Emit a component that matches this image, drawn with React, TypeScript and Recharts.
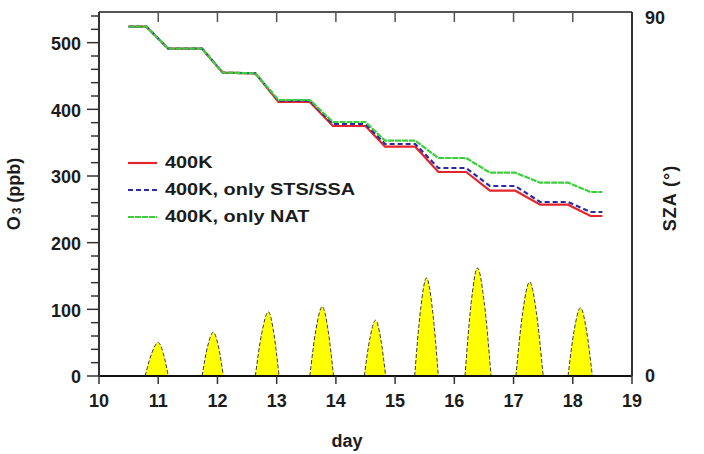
import React from 'react';
import { ComposedChart, Line, Area, XAxis, YAxis } from 'recharts';

const FONT = '"Liberation Sans", Arial, Helvetica, sans-serif';
const TEXT = '#1c1c1c';
const AXIS = '#333333';

// axis ticks
const dayTicks = [10, 11, 12, 13, 14, 15, 16, 17, 18, 19];
const o3Ticks = [0, 20, 40, 60, 80, 100, 120, 140, 160, 180, 200, 220, 240, 260, 280, 300, 320, 340, 360, 380, 400, 420, 440, 460, 480, 500, 520, 540];
const szaTicks = [0, 90];

// O3 series (ppb)
const o3Days = [10.5, 10.8, 11.17, 11.74, 12.09, 12.64, 13.03, 13.56, 13.95, 14.5, 14.83, 15.34, 15.73, 16.2, 16.6, 17.03, 17.45, 17.92, 18.3, 18.5];
const o3Base = [524, 524, 491, 491, 455, 454, 411, 411, 375, 375, 344, 344, 306, 306, 278, 278, 257, 257, 240, 240];
const o3StsSsa = [524, 524, 491, 491, 455, 454, 413, 413, 378, 378, 348, 348, 312, 312, 285, 285, 261, 261, 246, 246];
const o3Nat = [524, 524, 491, 491, 455, 454, 414, 414, 381, 381, 353, 353, 327, 327, 305, 305, 290, 290, 276, 276];

const seriesNames = ['400K', '400K, only STS/SSA', '400K, only NAT'];
const seriesColors = ['#e2262b', '#2b2ba8', '#3ccf3c'];
const seriesDash = ['', '5 3', '6 1'];

// SZA humps (degrees, right axis); null separates the daylight periods
const szaDays = [
  10.78, 10.89, 11.0, 11.085, 11.17, 11.45,
  11.74, 11.835, 11.93, 12.015, 12.1, 12.37,
  12.64, 12.75, 12.86, 12.95, 13.04, 13.3,
  13.56, 13.665, 13.77, 13.865, 13.96, 14.22,
  14.48, 14.575, 14.67, 14.755, 14.84, 15.08,
  15.33, 15.43, 15.53, 15.63, 15.73, 15.95,
  16.18, 16.285, 16.39, 16.505, 16.62, 16.83,
  17.04, 17.155, 17.27, 17.385, 17.5, 17.71,
  17.92, 18.025, 18.13, 18.23, 18.33,
];
const szaValues = [
  0, 5.7, 8.4, 5.7, 0, null,
  0, 7.5, 11.0, 7.5, 0, null,
  0, 10.9, 16.1, 10.9, 0, null,
  0, 11.8, 17.4, 11.8, 0, null,
  0, 9.5, 14.0, 9.5, 0, null,
  0, 16.7, 24.6, 16.7, 0, null,
  0, 18.4, 27.1, 18.4, 0, null,
  0, 16.0, 23.6, 16.0, 0, null,
  0, 11.6, 17.1, 11.6, 0,
];

const o3Data = o3Days.map((day, i) => ({ day, base: o3Base[i], sts: o3StsSsa[i], nat: o3Nat[i] }));
const szaData = szaDays.map((day, i) => ({ day, sza: szaValues[i] }));
const seriesKeys = ['base', 'sts', 'nat'];

const tickText = { fontSize: 18, fontWeight: 700, fill: TEXT, fontFamily: FONT };

const O3Tick = (props: any) => {
  const { x, y, payload } = props;
  const major = payload.value % 100 === 0;
  return (
    <g>
      <line x1={x - (major ? 12 : 8)} x2={x} y1={y} y2={y} stroke={AXIS} strokeWidth={1.5} />
      {major && (
        <text x={x - 18} y={y} dy="0.4em" textAnchor="end" style={tickText as any}>
          {payload.value}
        </text>
      )}
    </g>
  );
};

const O3Label = (props: any) => {
  const vb = props.viewBox || { x: 5, y: 12, width: 94, height: 364 };
  const x = vb.x + 9;
  const y = vb.y + vb.height / 2;
  return (
    <text x={x} y={y} transform={`rotate(-90, ${x}, ${y})`} textAnchor="middle" dominantBaseline="central" style={tickText as any}>
      O<tspan dx="2" dy="3" fontSize="12">3</tspan>
      <tspan dy="-3"> (ppb)</tspan>
    </text>
  );
};

const SzaLabel = (props: any) => {
  const vb = props.viewBox || { x: 632, y: 12, width: 50, height: 364 };
  const x = vb.x + 38;
  const y = vb.y + vb.height / 2 + 4;
  return (
    <text x={x} y={y} transform={`rotate(-90, ${x}, ${y})`} textAnchor="middle" dominantBaseline="central" style={{ ...tickText, letterSpacing: 1 } as any}>
      SZA (°)
    </text>
  );
};

const DayLabel = (props: any) => {
  const vb = props.viewBox || { x: 99, y: 376, width: 533, height: 78 };
  return (
    <text x={vb.x + 248} y={vb.y + 71} textAnchor="middle" style={tickText as any}>
      day
    </text>
  );
};

export default function App() {
  return (
    <div style={{ position: 'absolute', left: 0, top: 0, width: 704, height: 454, background: '#fff', fontFamily: FONT }}>
      <ComposedChart width={704} height={454} data={o3Data} margin={{ top: 12, right: 22, bottom: 0, left: 5 }}>
        <XAxis
          xAxisId="bottom"
          dataKey="day"
          type="number"
          domain={[10, 19]}
          ticks={dayTicks}
          interval={0}
          allowDataOverflow
          height={78}
          tickSize={8}
          tickMargin={10}
          tick={tickText}
          tickLine={{ stroke: AXIS, strokeWidth: 1.5 }}
          axisLine={{ stroke: '#111', strokeWidth: 2 }}
          label={<DayLabel />}
        />
        <XAxis
          xAxisId="top"
          orientation="top"
          dataKey="day"
          type="number"
          domain={[10, 19]}
          ticks={dayTicks}
          interval={0}
          allowDataOverflow
          mirror
          tickSize={10}
          tickFormatter={() => ''}
          tickLine={{ stroke: '#555', strokeWidth: 1.5 }}
          axisLine={{ stroke: '#555', strokeWidth: 2 }}
        />
        <YAxis
          yAxisId="left"
          orientation="left"
          type="number"
          domain={[0, 546]}
          ticks={o3Ticks}
          interval={0}
          allowDataOverflow
          width={94}
          tickSize={0}
          tickMargin={0}
          tickLine={false}
          tick={<O3Tick />}
          axisLine={{ stroke: AXIS, strokeWidth: 2 }}
          label={<O3Label />}
        />
        <YAxis
          yAxisId="right"
          orientation="right"
          type="number"
          domain={[0, 91.3]}
          ticks={szaTicks}
          interval={0}
          allowDataOverflow
          width={50}
          tickSize={0}
          tickMargin={13}
          tickLine={false}
          tick={tickText}
          axisLine={{ stroke: AXIS, strokeWidth: 2 }}
          label={<SzaLabel />}
        />
        <Area
          data={szaData}
          xAxisId="bottom"
          yAxisId="right"
          dataKey="sza"
          type="monotone"
          fill="#ffff00"
          fillOpacity={1}
          stroke="#3a3a3a"
          strokeWidth={1}
          strokeDasharray="4 2"
          connectNulls={false}
          dot={false}
          activeDot={false}
          isAnimationActive={false}
        />
        {seriesKeys.map((k, i) => (
          <Line
            key={k}
            xAxisId="bottom"
            yAxisId="left"
            dataKey={k}
            name={seriesNames[i]}
            type="linear"
            stroke={seriesColors[i]}
            strokeWidth={2.2}
            strokeDasharray={seriesDash[i] || undefined}
            dot={false}
            activeDot={false}
            isAnimationActive={false}
          />
        ))}
      </ComposedChart>
      <div style={{ position: 'absolute', left: 128, top: 149, fontFamily: FONT }}>
        {seriesNames.map((name, i) => (
          <div key={name} style={{ display: 'flex', alignItems: 'center', height: 27 }}>
            <svg width={29} height={6} style={{ display: 'block' }}>
              <line x1={0} x2={29} y1={3} y2={3} stroke={seriesColors[i]} strokeWidth={2.2} strokeDasharray={seriesDash[i] || undefined} />
            </svg>
            <span
              style={{
                marginLeft: 8,
                fontSize: 17,
                fontWeight: 700,
                color: TEXT,
                whiteSpace: 'nowrap',
                display: 'inline-block',
                transform: 'scaleX(1.17)',
                transformOrigin: 'left center',
              }}
            >
              {name}
            </span>
          </div>
        ))}
      </div>
    </div>
  );
}
